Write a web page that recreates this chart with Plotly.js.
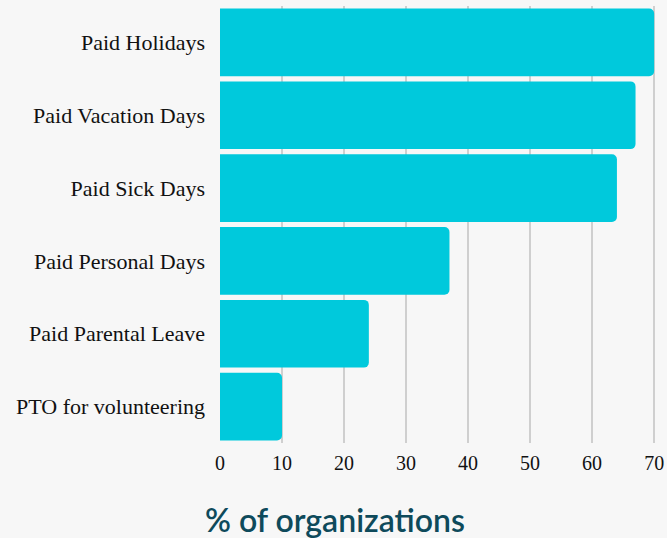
<!DOCTYPE html>
<html>
<head>
<meta charset="utf-8">
<script src="https://cdn.plot.ly/plotly-3.0.1.min.js"></script>
<style>
  body { margin: 0; background: #f7f7f7; }
  #grafico { width: 667px; height: 538px; }
</style>
</head>
<body>
<div id="grafico"></div>
<script>
// Beneficios ordenados de abajo hacia arriba
const beneficios = [
    'PTO for volunteering',
    'Paid Parental Leave',
    'Paid Personal Days',
    'Paid Sick Days',
    'Paid Vacation Days',
    'Paid Holidays'
];
const porcentajes = [10, 24, 37, 64, 67, 70];
const marcasX = [0, 10, 20, 30, 40, 50, 60, 70];

const trace = {
    x: porcentajes,
    y: beneficios,
    type: 'bar',
    orientation: 'h',
    marker: { color: '#00c9dc', cornerradius: 5 },
    hoverinfo: 'x+y'
};

const layout = {
    width: 667,
    height: 538,
    margin: { l: 220, r: 11, t: 6, b: 95 },
    paper_bgcolor: '#f7f7f7',
    plot_bgcolor: '#f7f7f7',
    bargap: 0.07,
    showlegend: false,
    font: { family: 'Liberation Serif, DejaVu Serif, serif', size: 20, color: '#111' },
    xaxis: {
        range: [0, 70.3],
        tickvals: marcasX,
        showgrid: true,
        gridcolor: '#cfcfcf',
        gridwidth: 1.5,
        zeroline: false,
        showline: false,
        ticks: '',
        ticklabelstandoff: 6,
        tickfont: { size: 20 },
        fixedrange: true
    },
    yaxis: {
        showgrid: false,
        zeroline: false,
        ticks: '',
        ticklabelstandoff: 14,
        tickfont: { size: 22 },
        fixedrange: true
    },
    annotations: [{
        text: '% of organizations',
        xref: 'paper',
        yref: 'paper',
        x: 0.264,
        y: -0.174,
        xanchor: 'center',
        yanchor: 'middle',
        showarrow: false,
        font: { family: 'Lato, Noto Sans, sans-serif', size: 32, weight: 600, color: '#0e4a5b' }
    }]
};

Plotly.newPlot('grafico', [trace], layout, { displayModeBar: false, staticPlot: true });
</script>
</body>
</html>
